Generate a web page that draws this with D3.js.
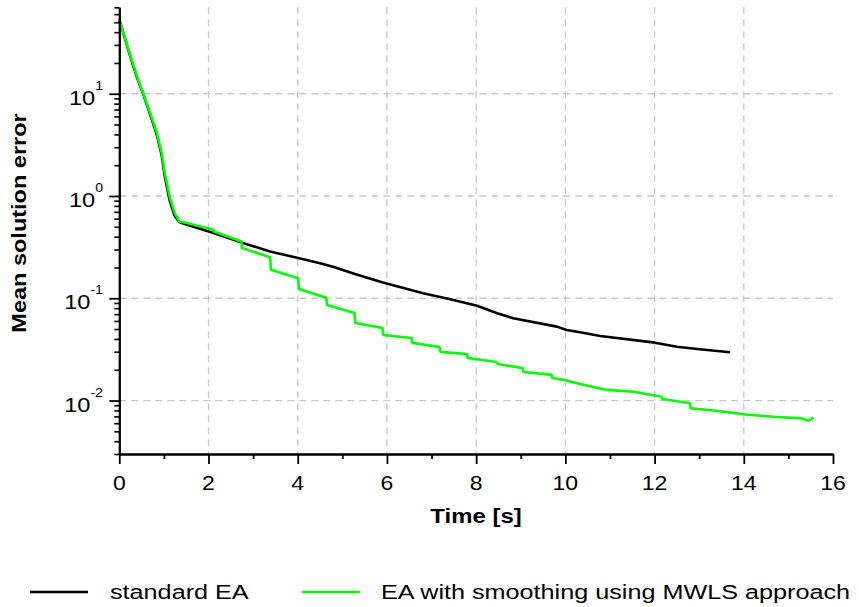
<!DOCTYPE html>
<html>
<head>
<meta charset="utf-8">
<script src="https://cdn.jsdelivr.net/npm/d3@7"></script>
<style>
  body { margin: 0; background: #fff; }
  text { font-family: "Liberation Sans", Arial, Helvetica, sans-serif; }
</style>
</head>
<body>
<svg id="chart" width="859" height="607"></svg>
<script>
// standard EA
var timeStd = [0, 0.1, 0.2, 0.3, 0.42, 0.54, 0.69, 0.84, 0.95, 1.02, 1.13, 1.24, 1.35, 1.40,
  2.11, 2.78, 3.38, 4.01, 4.5, 4.79, 5.3, 5.91, 6.81, 7.42, 8.02, 8.47, 8.83, 9.81, 10.03,
  10.33, 10.78, 12.01, 12.5, 13.01, 13.69];
var errStd = [53, 38, 27, 19.5, 13.5, 9.8, 6.3, 4.0, 2.5, 1.55, 0.9, 0.64, 0.555, 0.544,
  0.434, 0.346, 0.287, 0.247, 0.22, 0.203, 0.172, 0.1425, 0.112, 0.098, 0.0843, 0.0714, 0.0638, 0.0528, 0.049,
  0.0466, 0.0428, 0.0368, 0.0336, 0.0317, 0.0297];

// EA with smoothing (MWLS)
var timeMwls = [0, 0.1, 0.2, 0.3, 0.42, 0.54, 0.69, 0.84, 0.95, 1.02, 1.13, 1.24, 1.35, 1.47,
  1.66, 2.11, 2.12, 2.74, 2.75, 3.38, 3.40, 4.01, 4.03, 4.5, 4.64, 4.66, 5.27, 5.29,
  5.90, 5.92, 6.55, 6.57, 7.18, 7.20, 7.79, 7.81, 8.46, 8.48, 9.04, 9.06, 9.69, 9.71,
  9.99, 10.33, 10.93, 11.53, 12.16, 12.18, 12.79, 12.81, 13.43, 14.03, 14.66, 15.3, 15.45, 15.56];
var errMwls = [53, 38.5, 27.5, 20, 13.8, 10, 6.5, 4.17, 2.65, 1.69, 0.98, 0.686, 0.56, 0.551,
  0.524, 0.468, 0.45, 0.359, 0.31, 0.252, 0.19, 0.157, 0.123, 0.106, 0.101, 0.0861, 0.0719, 0.0574,
  0.0513, 0.0438, 0.0409, 0.0366, 0.0334, 0.0299, 0.0285, 0.0261, 0.0238, 0.0228, 0.0208, 0.019, 0.0178, 0.0166,
  0.0159, 0.0145, 0.0127, 0.0122, 0.0109, 0.01035, 0.0094, 0.0084, 0.0079, 0.0073, 0.00694, 0.00669, 0.00634, 0.00684];

var xTicks = [0, 2, 4, 6, 8, 10, 12, 14, 16];
var xMinor = [1, 3, 5, 7, 9, 11, 13, 15];
var yMajor = [0.01, 0.1, 1, 10];
var yExp = ["-2", "-1", "0", "1"];
var yMinor = [0.003, 0.004, 0.005, 0.006, 0.007, 0.008, 0.009,
  0.02, 0.03, 0.04, 0.05, 0.06, 0.07, 0.08, 0.09,
  0.2, 0.3, 0.4, 0.5, 0.6, 0.7, 0.8, 0.9,
  2, 3, 4, 5, 6, 7, 8, 9, 20, 30, 40, 50, 60, 70];
var seriesNames = ["standard EA", "EA with smoothing using MWLS approach"];
var seriesColors = ["#000000", "#00ff00"];

var svg = d3.select("#chart");
svg.append("rect").attr("width", 859).attr("height", 607).attr("fill", "#fff");

var plotLeft = 119.3, plotRight = 833, plotTop = 7.3, plotBottom = 454;

var x = d3.scaleLinear().domain([0, 16]).range([plotLeft, plotRight]);
var y = d3.scaleLog().domain([0.003, 70]).range([plotBottom, plotTop]);

// grid
var grid = svg.append("g")
  .attr("stroke", "#c8c8c8")
  .attr("stroke-width", 1.3)
  .attr("stroke-dasharray", "7,5");
grid.selectAll(".vg")
  .data(xTicks.filter(function(d){ return d > 0 && d < 16; }))
  .enter().append("line")
    .attr("x1", function(d){ return x(d); })
    .attr("x2", function(d){ return x(d); })
    .attr("y1", plotTop)
    .attr("y2", plotBottom);
grid.selectAll(".hg")
  .data(yMajor)
  .enter().append("line")
    .attr("x1", plotLeft)
    .attr("x2", plotRight)
    .attr("y1", function(d){ return y(d); })
    .attr("y2", function(d){ return y(d); });

// curves
var times = [timeStd, timeMwls];
var errs = [errStd, errMwls];
var line = d3.line()
  .x(function(d){ return x(d[0]); })
  .y(function(d){ return y(d[1]); });
for (var s = 0; s < 2; s++) {
  var pts = times[s].map(function(t, i){ return [t, errs[s][i]]; });
  svg.append("path")
    .datum(pts)
    .attr("d", line)
    .attr("fill", "none")
    .attr("stroke", seriesColors[s])
    .attr("stroke-width", 2.6)
    .attr("stroke-linejoin", "round");
}

// x axis (minor ticks, then major ticks + line)
var xMinorG = svg.append("g").attr("transform", "translate(0," + plotBottom + ")")
  .call(d3.axisBottom(x).tickValues(xMinor).tickSize(5).tickSizeOuter(0).tickFormat(""));
var xAxisG = svg.append("g").attr("transform", "translate(0," + plotBottom + ")")
  .call(d3.axisBottom(x).tickValues(xTicks).tickSize(10).tickSizeOuter(0).tickFormat(""));
svg.selectAll("g").selectAll("path.domain").attr("stroke", "#000").attr("stroke-width", 2);
xMinorG.selectAll("line").attr("stroke", "#000").attr("stroke-width", 1.8);
xAxisG.selectAll("line").attr("stroke", "#000").attr("stroke-width", 1.8);

svg.selectAll(".xlab")
  .data(xTicks)
  .enter().append("text")
    .attr("transform", function(d){ return "translate(" + x(d) + ",490) scale(1.18,1)"; })
    .attr("text-anchor", "middle")
    .attr("font-size", 19.5)
    .attr("fill", "#000")
    .text(function(d){ return d; });

// y axis
var yMinorG = svg.append("g").attr("transform", "translate(" + plotLeft + ",0)")
  .call(d3.axisLeft(y).tickValues(yMinor).tickSize(5).tickSizeOuter(0).tickFormat(""));
var yAxisG = svg.append("g").attr("transform", "translate(" + plotLeft + ",0)")
  .call(d3.axisLeft(y).tickValues(yMajor).tickSize(10).tickSizeOuter(0).tickFormat(""));
yMinorG.selectAll("path").attr("stroke", "#000").attr("stroke-width", 2);
yAxisG.selectAll("path").attr("stroke", "#000").attr("stroke-width", 2);
yMinorG.selectAll("line").attr("stroke", "#000").attr("stroke-width", 1.6);
yAxisG.selectAll("line").attr("stroke", "#000").attr("stroke-width", 1.8);

var ylab = svg.selectAll(".ylab")
  .data(yMajor)
  .enter().append("text")
    .attr("transform", function(d){ return "translate(103," + (y(d) + 11) + ") scale(1.18,1)"; })
    .attr("text-anchor", "end")
    .attr("fill", "#000");
ylab.append("tspan").attr("font-size", 20).text("10");
ylab.append("tspan").attr("font-size", 12).attr("dy", -15)
  .text(function(d, i){ return yExp[i]; });

// axis titles
svg.append("text")
  .attr("transform", "translate(476,523) scale(1.14,1)")
  .attr("text-anchor", "middle")
  .attr("font-size", 21)
  .attr("font-weight", "bold")
  .text("Time [s]");
svg.append("text")
  .attr("transform", "translate(26,223) rotate(-90) scale(1.12,1)")
  .attr("text-anchor", "middle")
  .attr("font-size", 21)
  .attr("font-weight", "bold")
  .text("Mean solution error");

// legend
var legX = [30, 302];
var leg = svg.selectAll(".leg")
  .data(seriesNames)
  .enter().append("g")
    .attr("transform", function(d, i){ return "translate(" + legX[i] + ",592)"; });
leg.append("line")
  .attr("x1", 0).attr("x2", 58)
  .attr("y1", 0).attr("y2", 0)
  .attr("stroke", function(d, i){ return seriesColors[i]; })
  .attr("stroke-width", 2.6);
leg.append("text")
  .attr("transform", function(d, i){ return "translate(" + (i === 0 ? 80 : 79) + ",7) scale(1.2,1)"; })
  .attr("font-size", 21)
  .attr("fill", "#000")
  .text(function(d){ return d; });
</script>
</body>
</html>
